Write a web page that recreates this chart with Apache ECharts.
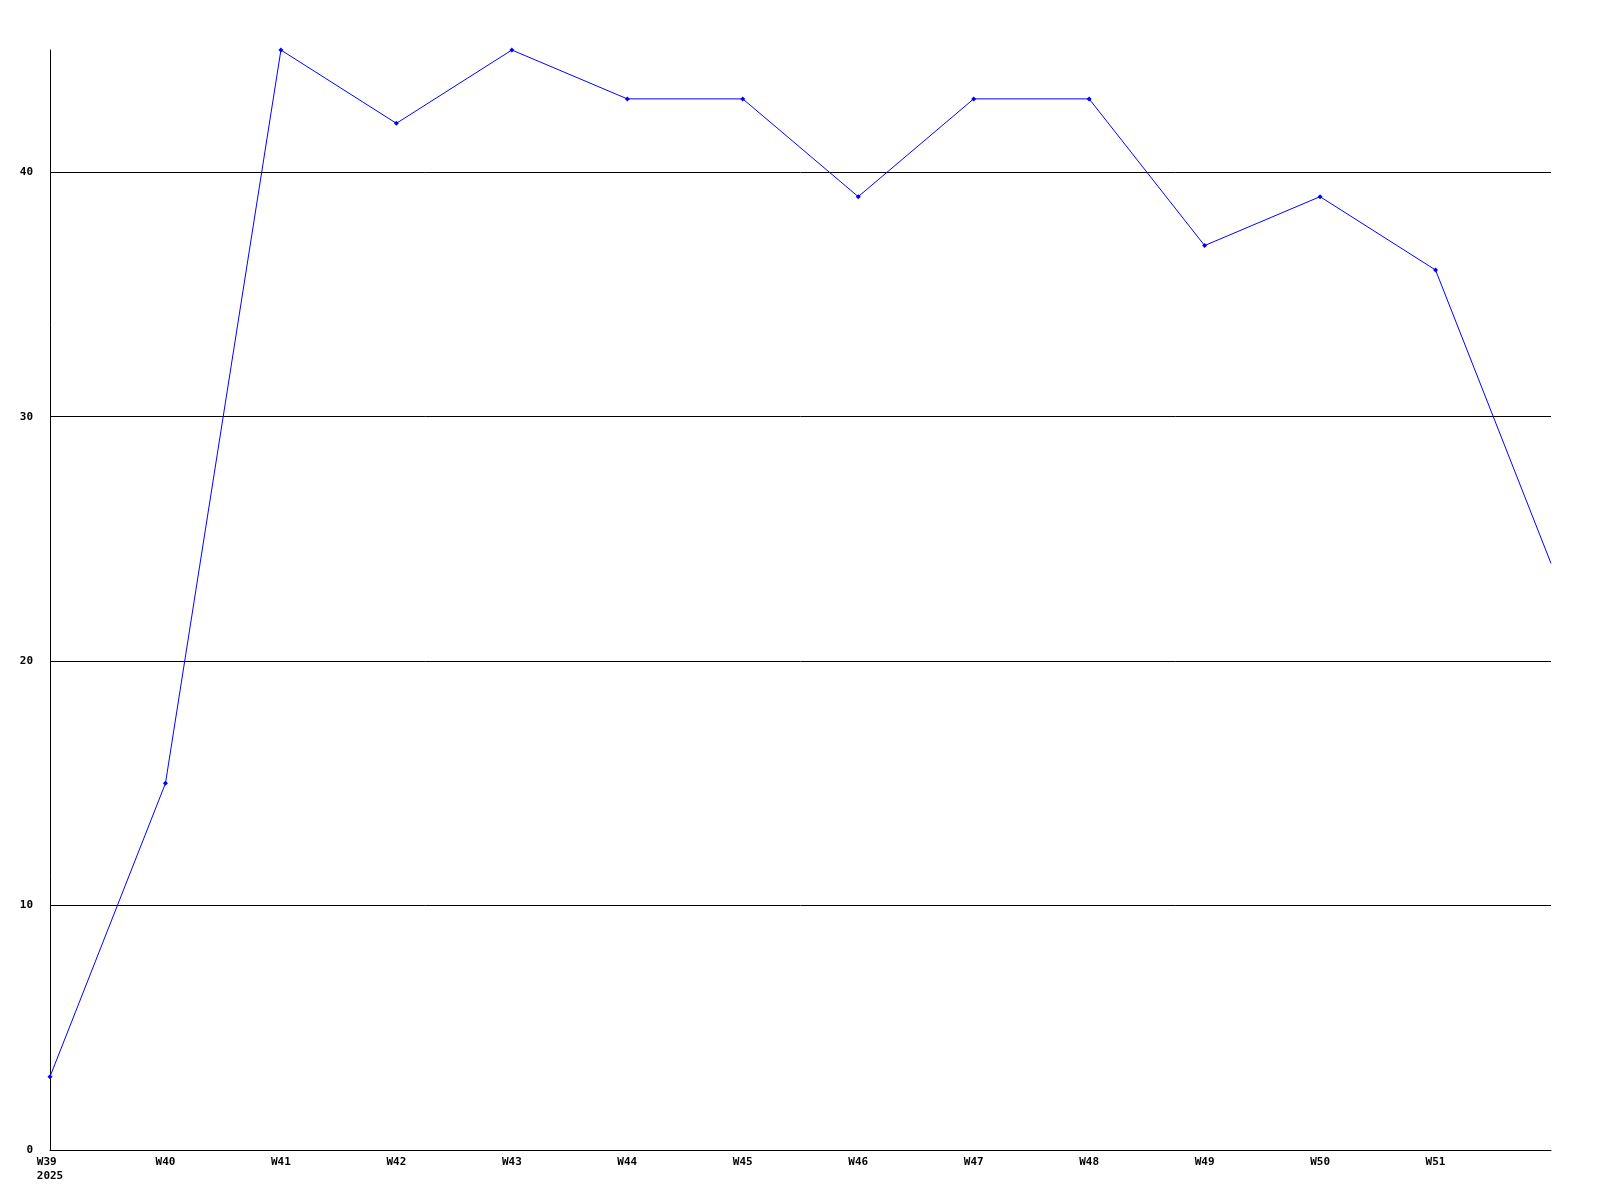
<!DOCTYPE html>
<html>
<head>
<meta charset="utf-8">
<script src="https://cdn.jsdelivr.net/npm/echarts@6/dist/echarts.min.js"></script>
<style>html,body{margin:0;padding:0;background:#fff}#c{width:1600px;height:1200px}</style>
</head>
<body>
<div id="c"></div>
<script>
const weeks = ['W39','W40','W41','W42','W43','W44','W45','W46','W47','W48','W49','W50','W51','W52'];
const values = [3,15,45,42,45,43,43,39,43,43,37,39,36,24];
const yTicks = [0,10,20,30,40];
const yearLabel = '2025';

const chart = echarts.init(document.getElementById('c'), null, {renderer:'canvas'});
const font = {fontFamily:'DejaVu Sans Mono', fontWeight:'bold', fontSize:11, color:'#000'};
const seriesData = values.map((v,i)=> i === values.length-1 ? {value:v, symbol:'none'} : v);
chart.setOption({
  animation:false,
  backgroundColor:'#fff',
  grid:{left:50, top:50, right:49, bottom:50, containLabel:false},
  xAxis:{
    type:'category', data:weeks, boundaryGap:false,
    axisLine:{lineStyle:{color:'#000', width:1}},
    axisTick:{show:false},
    splitLine:{show:false},
    axisLabel:Object.assign({}, font, {
      margin:5, lineHeight:14,
      interval:(i)=> i < weeks.length-1,
      formatter:(v,i)=> i===0 ? v + ' \n' + yearLabel : v
    })
  },
  yAxis:{
    type:'value', min:0, max:45, interval:10,
    axisLine:{show:true, lineStyle:{color:'#000', width:1}},
    axisTick:{show:false},
    splitLine:{show:true, lineStyle:{color:['#000','#000','#000','#000','#000','rgba(0,0,0,0)'], width:1}},
    axisLabel:Object.assign({}, font, {
      margin:17, showMaxLabel:false,
      formatter:(v)=> yTicks.includes(v) ? String(v) : ''
    })
  },
  series:[{
    type:'line', data:seriesData,
    symbol:'diamond', symbolSize:5,
    lineStyle:{color:'#0000ff', width:1},
    itemStyle:{color:'#0000ff'}
  }]
});
</script>
</body>
</html>
